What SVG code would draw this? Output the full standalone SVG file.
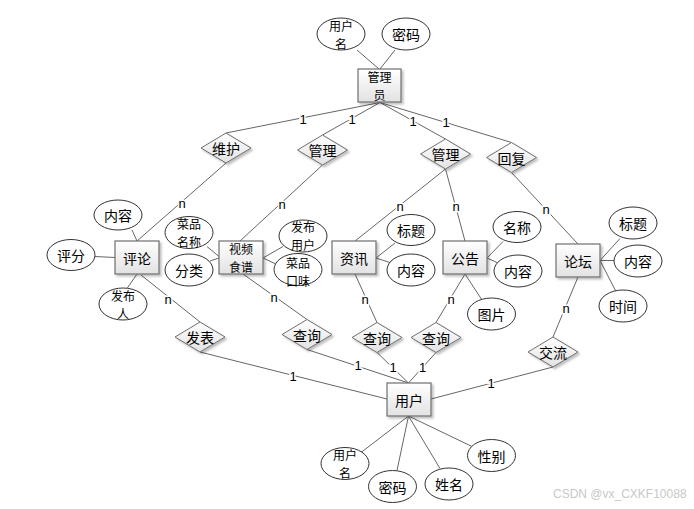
<svg xmlns="http://www.w3.org/2000/svg" width="694" height="509" viewBox="0 0 694 509">
<defs>
<linearGradient id="g" x1="0" y1="0" x2="0" y2="1">
<stop offset="0" stop-color="#ffffff"/>
<stop offset="1" stop-color="#e2e2e2"/>
</linearGradient>
<filter id="sh" x="-20%" y="-20%" width="150%" height="150%">
<feDropShadow dx="2" dy="2" stdDeviation="1.2" flood-color="#000" flood-opacity="0.25"/>
</filter>
</defs>
<style>
.ent{fill:url(#g);stroke:#6e6e6e;stroke-width:1.2;filter:url(#sh)}
.rel{fill:url(#g);stroke:#6e6e6e;stroke-width:1;filter:url(#sh)}
.att{fill:#fff;stroke:#333;stroke-width:1}
.t{font-family:"Noto Sans CJK SC","Microsoft YaHei",sans-serif;font-size:14px;fill:#000;text-anchor:middle;dominant-baseline:central}
.t2{font-family:"Noto Sans CJK SC","Microsoft YaHei",sans-serif;font-size:12px;fill:#000;text-anchor:middle;dominant-baseline:central}
.c line{stroke:#666;stroke-width:1}
.lb{font-family:"Liberation Sans",Arial,sans-serif;font-size:13px;fill:#000;text-anchor:middle;dominant-baseline:central;stroke:#fff;stroke-width:3;paint-order:stroke}
.wm{font-family:"Liberation Sans",Arial,sans-serif;font-size:12px;fill:#c8c8c8}
</style>
<rect width="694" height="509" fill="#fff"/>
<g id="connectors" class="c">
<line x1="357" y1="50" x2="379" y2="69"/>
<line x1="395" y1="50" x2="380" y2="69"/>
<line x1="380" y1="102.5" x2="226" y2="133"/>
<line x1="380" y1="102.5" x2="322.5" y2="135"/>
<line x1="380" y1="102.5" x2="445.5" y2="139"/>
<line x1="380" y1="102.5" x2="511.5" y2="142.5"/>
<line x1="226" y1="163" x2="137" y2="241"/>
<line x1="322.5" y1="165" x2="240" y2="241"/>
<line x1="445.5" y1="169" x2="355" y2="241"/>
<line x1="445.5" y1="169" x2="465" y2="241"/>
<line x1="511.5" y1="172.5" x2="578" y2="244"/>
<line x1="132" y1="230" x2="137" y2="241"/>
<line x1="95" y1="256.5" x2="115" y2="257.5"/>
<line x1="137" y1="274" x2="127" y2="288.5"/>
<line x1="141" y1="275" x2="200" y2="322"/>
<line x1="207" y1="246.5" x2="219" y2="256.5"/>
<line x1="210" y1="261" x2="219" y2="258"/>
<line x1="263" y1="258" x2="283" y2="246.5"/>
<line x1="263" y1="258" x2="276" y2="264"/>
<line x1="243" y1="274" x2="307" y2="319.5"/>
<line x1="376" y1="258" x2="395" y2="243"/>
<line x1="376" y1="258" x2="390" y2="262.5"/>
<line x1="355" y1="274" x2="377" y2="322.5"/>
<line x1="487" y1="258" x2="503" y2="241.5"/>
<line x1="487" y1="258" x2="497" y2="262.5"/>
<line x1="465" y1="274" x2="482" y2="300"/>
<line x1="465" y1="274" x2="436" y2="322.5"/>
<line x1="600" y1="260.5" x2="620" y2="238.5"/>
<line x1="600" y1="260.5" x2="614" y2="260.5"/>
<line x1="600" y1="260.5" x2="616" y2="291.5"/>
<line x1="578" y1="277" x2="553" y2="337"/>
<line x1="200" y1="352" x2="387" y2="399"/>
<line x1="307" y1="349.5" x2="408.5" y2="383"/>
<line x1="377" y1="352.5" x2="408.5" y2="383"/>
<line x1="436" y1="352.5" x2="408.5" y2="383"/>
<line x1="553" y1="367" x2="431" y2="399"/>
<line x1="408.5" y1="416" x2="361" y2="452.5"/>
<line x1="408.5" y1="416" x2="397" y2="470.5"/>
<line x1="408.5" y1="416" x2="440" y2="468.5"/>
<line x1="408.5" y1="416" x2="472" y2="446.5"/>
<text class="lb" x="303" y="119">1</text>
<text class="lb" x="352" y="119">1</text>
<text class="lb" x="413" y="121">1</text>
<text class="lb" x="446" y="122.5">1</text>
<text class="lb" x="293" y="376">1</text>
<text class="lb" x="358" y="365.5">1</text>
<text class="lb" x="393" y="367.5">1</text>
<text class="lb" x="422.5" y="367.5">1</text>
<text class="lb" x="491" y="383">1</text>
<text class="lb" x="182" y="203">n</text>
<text class="lb" x="282" y="204">n</text>
<text class="lb" x="400" y="206">n</text>
<text class="lb" x="456" y="206">n</text>
<text class="lb" x="546" y="209">n</text>
<text class="lb" x="168" y="299">n</text>
<text class="lb" x="274" y="297">n</text>
<text class="lb" x="365" y="299">n</text>
<text class="lb" x="451" y="299">n</text>
<text class="lb" x="566" y="308">n</text>
</g>
<g id="admin"><rect class="ent" x="358" y="69" width="43" height="33"/><text class="t2" x="379.5" y="76.5">管理</text><text class="t2" x="379.5" y="94.5">员</text></g>
<g id="pinglun"><rect class="ent" x="115" y="241" width="44" height="33"/><text class="t" x="137" y="257.5">评论</text></g>
<g id="shipin"><rect class="ent" x="219" y="241" width="44" height="33"/><text class="t2" x="241" y="248.5">视频</text><text class="t2" x="241" y="266.5">食谱</text></g>
<g id="zixun"><rect class="ent" x="332" y="241" width="44" height="33"/><text class="t" x="354" y="257.5">资讯</text></g>
<g id="gonggao"><rect class="ent" x="443" y="241" width="44" height="33"/><text class="t" x="465" y="257.5">公告</text></g>
<g id="luntan"><rect class="ent" x="556" y="244" width="44" height="33"/><text class="t" x="578" y="260.5">论坛</text></g>
<g id="user"><rect class="ent" x="387" y="383" width="44" height="33"/><text class="t" x="409" y="399.5">用户</text></g>
<g id="r-weihu"><polygon class="rel" points="201,148 226,133 251,148 226,163"/><text class="t" x="226" y="148">维护</text></g>
<g id="r-guanli1"><polygon class="rel" points="297.5,150 322.5,135 347.5,150 322.5,165"/><text class="t" x="322.5" y="150">管理</text></g>
<g id="r-guanli2"><polygon class="rel" points="420.5,154 445.5,139 470.5,154 445.5,169"/><text class="t" x="445.5" y="154">管理</text></g>
<g id="r-huifu"><polygon class="rel" points="486.5,157.5 511.5,142.5 536.5,157.5 511.5,172.5"/><text class="t" x="511.5" y="157.5">回复</text></g>
<g id="r-fabiao"><polygon class="rel" points="175,337 200,322 225,337 200,352"/><text class="t" x="200" y="337">发表</text></g>
<g id="r-chaxun1"><polygon class="rel" points="282,334.5 307,319.5 332,334.5 307,349.5"/><text class="t" x="307" y="334.5">查询</text></g>
<g id="r-chaxun2"><polygon class="rel" points="352,337.5 377,322.5 402,337.5 377,352.5"/><text class="t" x="377" y="337.5">查询</text></g>
<g id="r-chaxun3"><polygon class="rel" points="411,337.5 436,322.5 461,337.5 436,352.5"/><text class="t" x="436" y="337.5">查询</text></g>
<g id="r-jiaoliu"><polygon class="rel" points="528,352 553,337 578,352 553,367"/><text class="t" x="553" y="352">交流</text></g>
<g id="a-admin-name"><ellipse class="att" cx="341" cy="34" rx="24" ry="16"/><text class="t2" x="341" y="25">用户</text><text class="t2" x="341" y="43">名</text></g>
<g id="a-admin-pwd"><ellipse class="att" cx="406" cy="34" rx="24" ry="16"/><text class="t" x="406" y="34">密码</text></g>
<g id="a-pl-content"><ellipse class="att" cx="118" cy="215" rx="24" ry="15"/><text class="t" x="118" y="215">内容</text></g>
<g id="a-pl-score"><ellipse class="att" cx="71" cy="255" rx="24" ry="15.5"/><text class="t" x="71" y="255">评分</text></g>
<g id="a-pl-author"><ellipse class="att" cx="123" cy="304" rx="24" ry="16"/><text class="t2" x="123" y="295">发布</text><text class="t2" x="123" y="313">人</text></g>
<g id="a-sp-name"><ellipse class="att" cx="189" cy="232.5" rx="24" ry="16"/><text class="t2" x="189" y="223.5">菜品</text><text class="t2" x="189" y="241.5">名称</text></g>
<g id="a-sp-type"><ellipse class="att" cx="189" cy="270" rx="24" ry="16"/><text class="t" x="189" y="270">分类</text></g>
<g id="a-sp-user"><ellipse class="att" cx="303" cy="236" rx="24" ry="16"/><text class="t2" x="303" y="226">发布</text><text class="t2" x="303" y="244">用户</text></g>
<g id="a-sp-taste"><ellipse class="att" cx="298" cy="269.5" rx="24" ry="16"/><text class="t2" x="298" y="262">菜品</text><text class="t2" x="298" y="280">口味</text></g>
<g id="a-zx-title"><ellipse class="att" cx="411" cy="230" rx="24" ry="15.5"/><text class="t" x="411" y="230">标题</text></g>
<g id="a-zx-content"><ellipse class="att" cx="411" cy="270" rx="24" ry="16"/><text class="t" x="411" y="270">内容</text></g>
<g id="a-gg-name"><ellipse class="att" cx="517" cy="227" rx="24" ry="15.5"/><text class="t" x="517" y="227">名称</text></g>
<g id="a-gg-content"><ellipse class="att" cx="518" cy="271" rx="24" ry="16"/><text class="t" x="518" y="271">内容</text></g>
<g id="a-gg-pic"><ellipse class="att" cx="491.5" cy="314" rx="24" ry="16"/><text class="t" x="491.5" y="314">图片</text></g>
<g id="a-lt-title"><ellipse class="att" cx="633" cy="223" rx="24" ry="16"/><text class="t" x="633" y="223">标题</text></g>
<g id="a-lt-content"><ellipse class="att" cx="638" cy="261" rx="24" ry="16"/><text class="t" x="638" y="261">内容</text></g>
<g id="a-lt-time"><ellipse class="att" cx="623" cy="306" rx="24" ry="16"/><text class="t" x="623" y="306">时间</text></g>
<g id="a-u-name"><ellipse class="att" cx="345" cy="463.5" rx="24" ry="16"/><text class="t2" x="345" y="454.5">用户</text><text class="t2" x="345" y="472.5">名</text></g>
<g id="a-u-pwd"><ellipse class="att" cx="392.5" cy="486.5" rx="24" ry="16"/><text class="t" x="392.5" y="486.5">密码</text></g>
<g id="a-u-realname"><ellipse class="att" cx="449" cy="484" rx="24" ry="16"/><text class="t" x="449" y="484">姓名</text></g>
<g id="a-u-sex"><ellipse class="att" cx="491.5" cy="455.5" rx="24" ry="16"/><text class="t" x="491.5" y="455.5">性别</text></g>
<text class="wm" x="553" y="498">CSDN @vx_CXKF10088</text>
</svg>
